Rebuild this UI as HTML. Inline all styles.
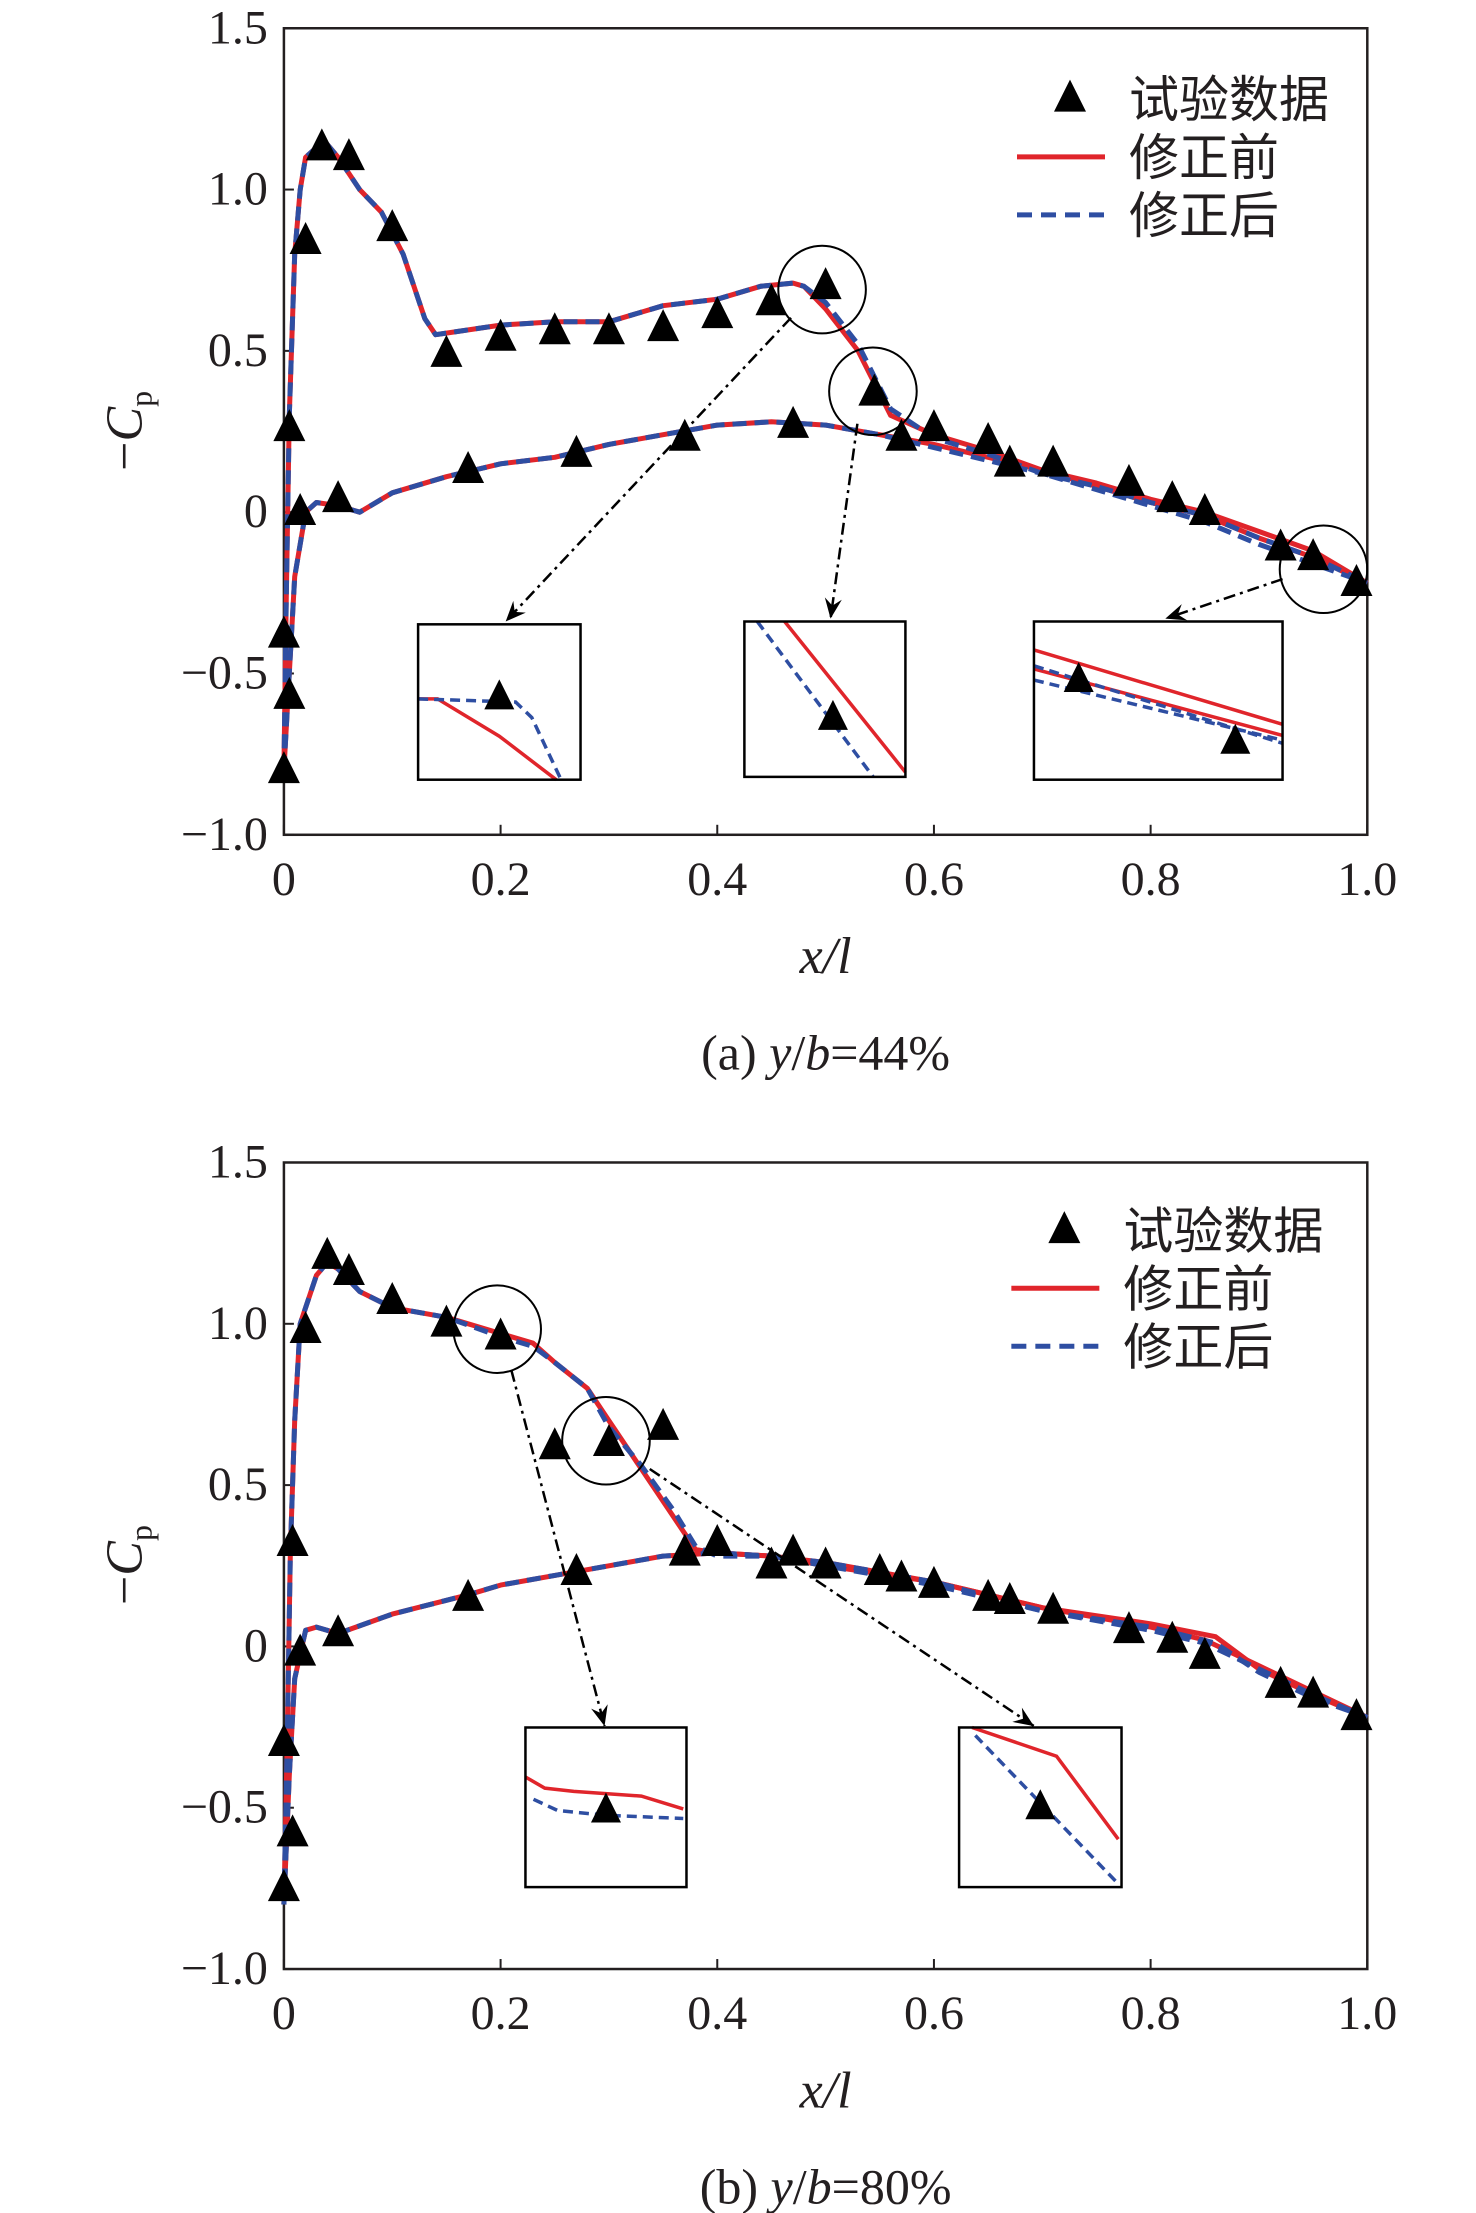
<!DOCTYPE html>
<html><head><meta charset="utf-8"><style>
html,body{margin:0;padding:0;background:#fff;}
svg{display:block;}
text{font-family:"Liberation Serif","Noto Serif CJK SC",serif;fill:#231f20;}
.cjk{font-family:"Liberation Serif","Noto Sans CJK SC",sans-serif;}
</style></head><body>
<svg id="fig" width="1476" height="2213" viewBox="0 0 1476 2213" xmlns="http://www.w3.org/2000/svg"></svg>
<script>
// ---------- Panel (a) y/b=44% ----------
const aUpX=[0,0.002,0.005,0.01,0.015,0.02,0.03,0.04,0.05,0.07,0.09,0.11,0.13,0.14,0.16,0.2,0.25,0.3,0.35,0.4,0.44,0.47,0.48,0.5,0.53,0.56,0.6,0.65,0.7,0.75,0.8,0.85,0.9,0.95,1.0];
const aUpRed=[-0.8,-0.3,0.3,0.8,1.0,1.1,1.13,1.14,1.1,1.0,0.93,0.8,0.6,0.55,0.56,0.58,0.59,0.59,0.64,0.66,0.7,0.71,0.7,0.63,0.5,0.3,0.24,0.19,0.13,0.08,0.03,-0.01,-0.08,-0.14,-0.22];
const aUpBlue=[-0.8,-0.3,0.3,0.8,1.0,1.1,1.13,1.14,1.1,1.0,0.93,0.8,0.6,0.55,0.56,0.58,0.59,0.59,0.64,0.66,0.7,0.71,0.7,0.65,0.52,0.32,0.23,0.18,0.12,0.07,0.02,-0.03,-0.1,-0.16,-0.22];
const aLoX=[0,0.005,0.01,0.02,0.03,0.05,0.07,0.1,0.15,0.2,0.25,0.3,0.35,0.4,0.45,0.5,0.55,0.6,0.65,0.7,0.75,0.8,0.85,0.9,0.95,1.0];
const aLoRed=[-0.8,-0.5,-0.2,0.0,0.03,0.02,0.0,0.06,0.11,0.15,0.17,0.21,0.24,0.27,0.28,0.27,0.24,0.21,0.17,0.13,0.09,0.04,0.0,-0.06,-0.12,-0.22];
const aLoBlue=[-0.8,-0.5,-0.2,0.0,0.03,0.02,0.0,0.06,0.11,0.15,0.17,0.21,0.24,0.27,0.28,0.27,0.24,0.2,0.16,0.12,0.08,0.03,-0.01,-0.08,-0.14,-0.22];
const aExpX=[0.035,0.06,0.1,0.02,0.005,0.015,0.05,0.0,0.005,0.0,0.15,0.2,0.25,0.3,0.35,0.4,0.45,0.5,0.545,0.17,0.27,0.37,0.47,0.57,0.6,0.65,0.67,0.71,0.78,0.82,0.85,0.92,0.95,0.99];
const aExpY=[1.13,1.1,0.88,0.84,0.26,0.0,0.04,-0.38,-0.57,-0.8,0.49,0.54,0.56,0.56,0.57,0.61,0.65,0.7,0.37,0.13,0.18,0.23,0.27,0.23,0.26,0.22,0.15,0.15,0.09,0.04,0.0,-0.11,-0.14,-0.22];
// ---------- Panel (b) y/b=80% ----------
const bUpX=[0,0.003,0.006,0.01,0.015,0.02,0.03,0.04,0.05,0.07,0.1,0.15,0.2,0.23,0.25,0.28,0.3,0.33,0.36,0.38,0.4,0.45,0.5,0.6,0.7,0.8,0.86,0.9,0.95,1.0];
const bUpRed=[-0.8,-0.3,0.3,0.7,1.0,1.05,1.15,1.19,1.17,1.1,1.05,1.02,0.97,0.94,0.88,0.8,0.7,0.55,0.4,0.3,0.29,0.28,0.25,0.2,0.12,0.07,0.03,-0.07,-0.15,-0.22];
const bUpBlue=[-0.8,-0.3,0.3,0.7,1.0,1.05,1.15,1.19,1.17,1.1,1.05,1.02,0.96,0.93,0.88,0.8,0.68,0.56,0.42,0.31,0.28,0.28,0.25,0.19,0.11,0.06,0.01,-0.08,-0.16,-0.22];
const bLoX=[0,0.005,0.01,0.02,0.03,0.05,0.1,0.17,0.2,0.25,0.3,0.35,0.4,0.45,0.5,0.6,0.7,0.8,0.85,0.9,0.95,1.0];
const bLoRed=[-0.8,-0.4,-0.1,0.05,0.06,0.04,0.1,0.16,0.19,0.22,0.25,0.28,0.29,0.28,0.26,0.2,0.12,0.06,0.02,-0.06,-0.14,-0.22];
const bLoBlue=[-0.8,-0.4,-0.1,0.05,0.06,0.04,0.1,0.16,0.19,0.22,0.25,0.28,0.29,0.28,0.26,0.2,0.11,0.05,0.01,-0.07,-0.15,-0.22];
const bExpX=[0.04,0.06,0.1,0.02,0.008,0.15,0.2,0.25,0.3,0.35,0.37,0.4,0.45,0.47,0.5,0.55,0.57,0.6,0.65,0.67,0.71,0.78,0.82,0.85,0.92,0.95,0.99,0.17,0.27,0.015,0.05,0.0,0.008,0.0];
const bExpY=[1.21,1.16,1.07,0.98,0.32,1.0,0.96,0.62,0.63,0.68,0.29,0.32,0.25,0.29,0.25,0.23,0.21,0.19,0.15,0.14,0.11,0.05,0.02,-0.03,-0.12,-0.15,-0.22,0.15,0.23,-0.02,0.04,-0.3,-0.58,-0.75];
// Tick labels
const xTicks=[0,0.2,0.4,0.6,0.8,1.0];
const xTickLabels=["0","0.2","0.4","0.6","0.8","1.0"];
const yTicks=[1.5,1.0,0.5,0,-0.5,-1.0];
const yTickLabels=["1.5","1.0","0.5","0","\u22120.5","\u22121.0"];
// Inset curves (normalized 0..1 within each box)
const insA1RedX=[0,0.12,0.5,0.85],insA1RedY=[0.52,0.52,0.28,0];
const insA1BlueX=[0,0.6,0.7,0.88],insA1BlueY=[0.52,0.5,0.4,0];
const insA1Exp=[[0.5,0.53]];
const insA2RedX=[0.25,1],insA2RedY=[1,0.03];
const insA2BlueX=[0.08,0.8],insA2BlueY=[1,0];
const insA2Exp=[[0.55,0.38]];
const insA3RedX=[[0,1],[0,1]],insA3RedY=[[0.82,0.35],[0.7,0.28]];
const insA3BlueX=[[0,1],[0,1]],insA3BlueY=[[0.72,0.23],[0.63,0.25]];
const insA3Exp=[[0.18,0.63],[0.81,0.24]];
const insB1RedX=[0,0.12,0.3,0.72,0.98],insB1RedY=[0.69,0.62,0.6,0.57,0.49];
const insB1BlueX=[0.05,0.2,0.5,0.98],insB1BlueY=[0.55,0.48,0.45,0.43];
const insB1Exp=[[0.5,0.48]];
const insB2RedX=[0.08,0.6,0.98],insB2RedY=[1,0.82,0.3];
const insB2BlueX=[0.1,0.98],insB2BlueY=[0.95,0.02];
const insB2Exp=[[0.5,0.5]];

const S=1.4125;
const NS="http://www.w3.org/2000/svg";
const svg=document.getElementById('fig');
function mk(tag,attrs,parent){const e=document.createElementNS(NS,tag);for(const k in attrs)e.setAttribute(k,attrs[k]);(parent||svg).appendChild(e);return e;}
function tri(g,cx,cy,s){return mk('polygon',{points:`${cx},${cy-s*0.6} ${cx-s/2},${cy+s*0.4} ${cx+s/2},${cy+s*0.4}`,fill:'#000'},g);}

function panel(id,topD,cfg){
  const L=201*S,R=968*S,T=topD*S,B=(topD+571)*S;
  const X=v=>L+v*(R-L);
  const Y=v=>B-(v+1)/2.5*(B-T);
  const g=mk('g',{});
  
  
  const frame=mk('rect',{x:L,y:T,width:R-L,height:B-T,fill:'none',stroke:'#231f20','stroke-width':2.5},g);
  
  
  xTicks.forEach((t,i)=>{
    mk('line',{x1:X(t),x2:X(t),y1:B,y2:B-10,stroke:'#231f20','stroke-width':2},g);
    const tx=mk('text',{x:X(t),y:B+60,'font-size':48,'text-anchor':'middle'},g);
    tx.textContent=xTickLabels[i];
    
    
  });
  yTicks.forEach((t,i)=>{
    mk('line',{x1:L,x2:L+10,y1:Y(t),y2:Y(t),stroke:'#231f20','stroke-width':2},g);
    const tx=mk('text',{x:L-16,y:Y(t)+15,'font-size':48,'text-anchor':'end'},g);
    tx.textContent=yTickLabels[i];
    
    
  });
  const yl=mk('text',{x:0,y:0,'font-size':52,'text-anchor':'middle',transform:`translate(${100*S},${(topD+285)*S}) rotate(-90)`},g);
  yl.innerHTML='\u2212<tspan font-style="italic">C</tspan><tspan font-size="32" dy="10">p</tspan>';
  
  
  const xl=mk('text',{x:X(0.5),y:(topD+669)*S,'font-size':52,'font-style':'italic','text-anchor':'middle'},g);
  xl.textContent='x/l';
  
  
  const cap=mk('text',{x:X(0.5),y:(topD+737)*S,'font-size':50,'text-anchor':'middle'},g);
  cap.innerHTML=cfg.caption;
  
  
  function line(xs,ys,color,dash,name){
    const d=xs.map((x,i)=>(i?'L':'M')+X(x).toFixed(1)+','+Y(ys[i]).toFixed(1)).join(' ');
    const p=mk('path',{d:d,fill:'none',stroke:color,'stroke-width':5,'stroke-linejoin':'round'},g);
    if(dash)p.setAttribute('stroke-dasharray','14,8');
    
    
  }
  line(cfg.upX,cfg.upRed,'#e0252b',null,'before-correction-upper');
  line(cfg.loX,cfg.loRed,'#e0252b',null,'before-correction-lower');
  line(cfg.upX,cfg.upBlue,'#2e4ea2',true,'after-correction-upper');
  line(cfg.loX,cfg.loBlue,'#2e4ea2',true,'after-correction-lower');
  cfg.expX.forEach((x,i)=>{
    const t=tri(g,X(x),Y(cfg.expY[i]),32);
    
    
  });
  const lg=mk('g',{},g);
  
  
  const lx=cfg.legX*S, ly=cfg.legY*S;
  tri(lg,lx+53,ly,32);
  mk('line',{x1:lx,x2:lx+88,y1:ly+58,y2:ly+58,stroke:'#e0252b','stroke-width':5},lg);
  mk('line',{x1:lx,x2:lx+88,y1:ly+116,y2:ly+116,stroke:'#2e4ea2','stroke-width':5,'stroke-dasharray':'15,9'},lg);
  ['试验数据','修正前','修正后'].forEach((s,i)=>{
    const t=mk('text',{x:lx+112,y:ly+18+i*58,'font-size':50,class:'cjk'},lg);
    t.textContent=s;
    
    
  });
  cfg.circles.forEach(c=>{
    const ci=mk('circle',{cx:c[0]*S,cy:c[1]*S,r:31*S,fill:'none',stroke:'#000','stroke-width':2},g);
    
    
  });
  cfg.arrows.forEach(a=>{
    const x1=a[0]*S,y1=a[1]*S,x2=a[2]*S,y2=a[3]*S;
    const ar=mk('line',{x1:x1,y1:y1,x2:x2,y2:y2,stroke:'#000','stroke-width':2.5,'stroke-dasharray':'12,5,3,5'},g);
    
    
    const ang=Math.atan2(y2-y1,x2-x1),h=22,w=0.4;
    mk('polygon',{points:`${x2},${y2} ${x2-h*Math.cos(ang-w)},${y2-h*Math.sin(ang-w)} ${x2-h*0.6*Math.cos(ang)},${y2-h*0.6*Math.sin(ang)} ${x2-h*Math.cos(ang+w)},${y2-h*Math.sin(ang+w)}`,fill:'#000'},g);
  });
  cfg.insets.forEach(ins=>{
    const bx=ins.box[0]*S,by=ins.box[1]*S,bw=(ins.box[2]-ins.box[0])*S,bh=(ins.box[3]-ins.box[1])*S;
    const ig=mk('g',{},g);
    
    
    const IX=v=>bx+v*bw, IY=v=>by+(1-v)*bh;
    const pl=(xs,ys,c,dash)=>{const p=mk('path',{d:xs.map((x,i)=>(i?'L':'M')+IX(x)+','+IY(ys[i])).join(' '),fill:'none',stroke:c,'stroke-width':3.5},ig);if(dash)p.setAttribute('stroke-dasharray','10,6');};
    ins.red.forEach(r=>pl(r[0],r[1],'#e0252b',false));
    ins.blue.forEach(r=>pl(r[0],r[1],'#2e4ea2',true));
    ins.exp.forEach(e=>tri(ig,IX(e[0]),IY(e[1]),30));
    mk('rect',{x:bx,y:by,width:bw,height:bh,fill:'none',stroke:'#000','stroke-width':2.5},ig);
  });
}
panel('a',20,{upX:aUpX,upRed:aUpRed,upBlue:aUpBlue,loX:aLoX,loRed:aLoRed,loBlue:aLoBlue,expX:aExpX,expY:aExpY,
  caption:'(a) <tspan font-style="italic">y</tspan>/<tspan font-style="italic">b</tspan>=44%',legX:720,legY:70,
  circles:[[582,205],[618,277],[937,403]],
  arrows:[[560,225,358,440],[607,300,588,438],[908,410,825,438]],
  insets:[{box:[296,442,411,552],red:[[insA1RedX,insA1RedY]],blue:[[insA1BlueX,insA1BlueY]],exp:insA1Exp},
          {box:[527,440,641,550],red:[[insA2RedX,insA2RedY]],blue:[[insA2BlueX,insA2BlueY]],exp:insA2Exp},
          {box:[732,440,908,552],red:[[insA3RedX[0],insA3RedY[0]],[insA3RedX[1],insA3RedY[1]]],blue:[[insA3BlueX[0],insA3BlueY[0]],[insA3BlueX[1],insA3BlueY[1]]],exp:insA3Exp}]});
panel('b',823,{upX:bUpX,upRed:bUpRed,upBlue:bUpBlue,loX:bLoX,loRed:bLoRed,loBlue:bLoBlue,expX:bExpX,expY:bExpY,
  caption:'(b) <tspan font-style="italic">y</tspan>/<tspan font-style="italic">b</tspan>=80%',legX:716,legY:871,
  circles:[[352,941],[429,1020]],
  arrows:[[362,970,428,1222],[460,1040,732,1222]],
  insets:[{box:[372,1223,486,1336],red:[[insB1RedX,insB1RedY]],blue:[[insB1BlueX,insB1BlueY]],exp:insB1Exp},
          {box:[679,1223,794,1336],red:[[insB2RedX,insB2RedY]],blue:[[insB2BlueX,insB2BlueY]],exp:insB2Exp}]});
</script>
</body></html>
